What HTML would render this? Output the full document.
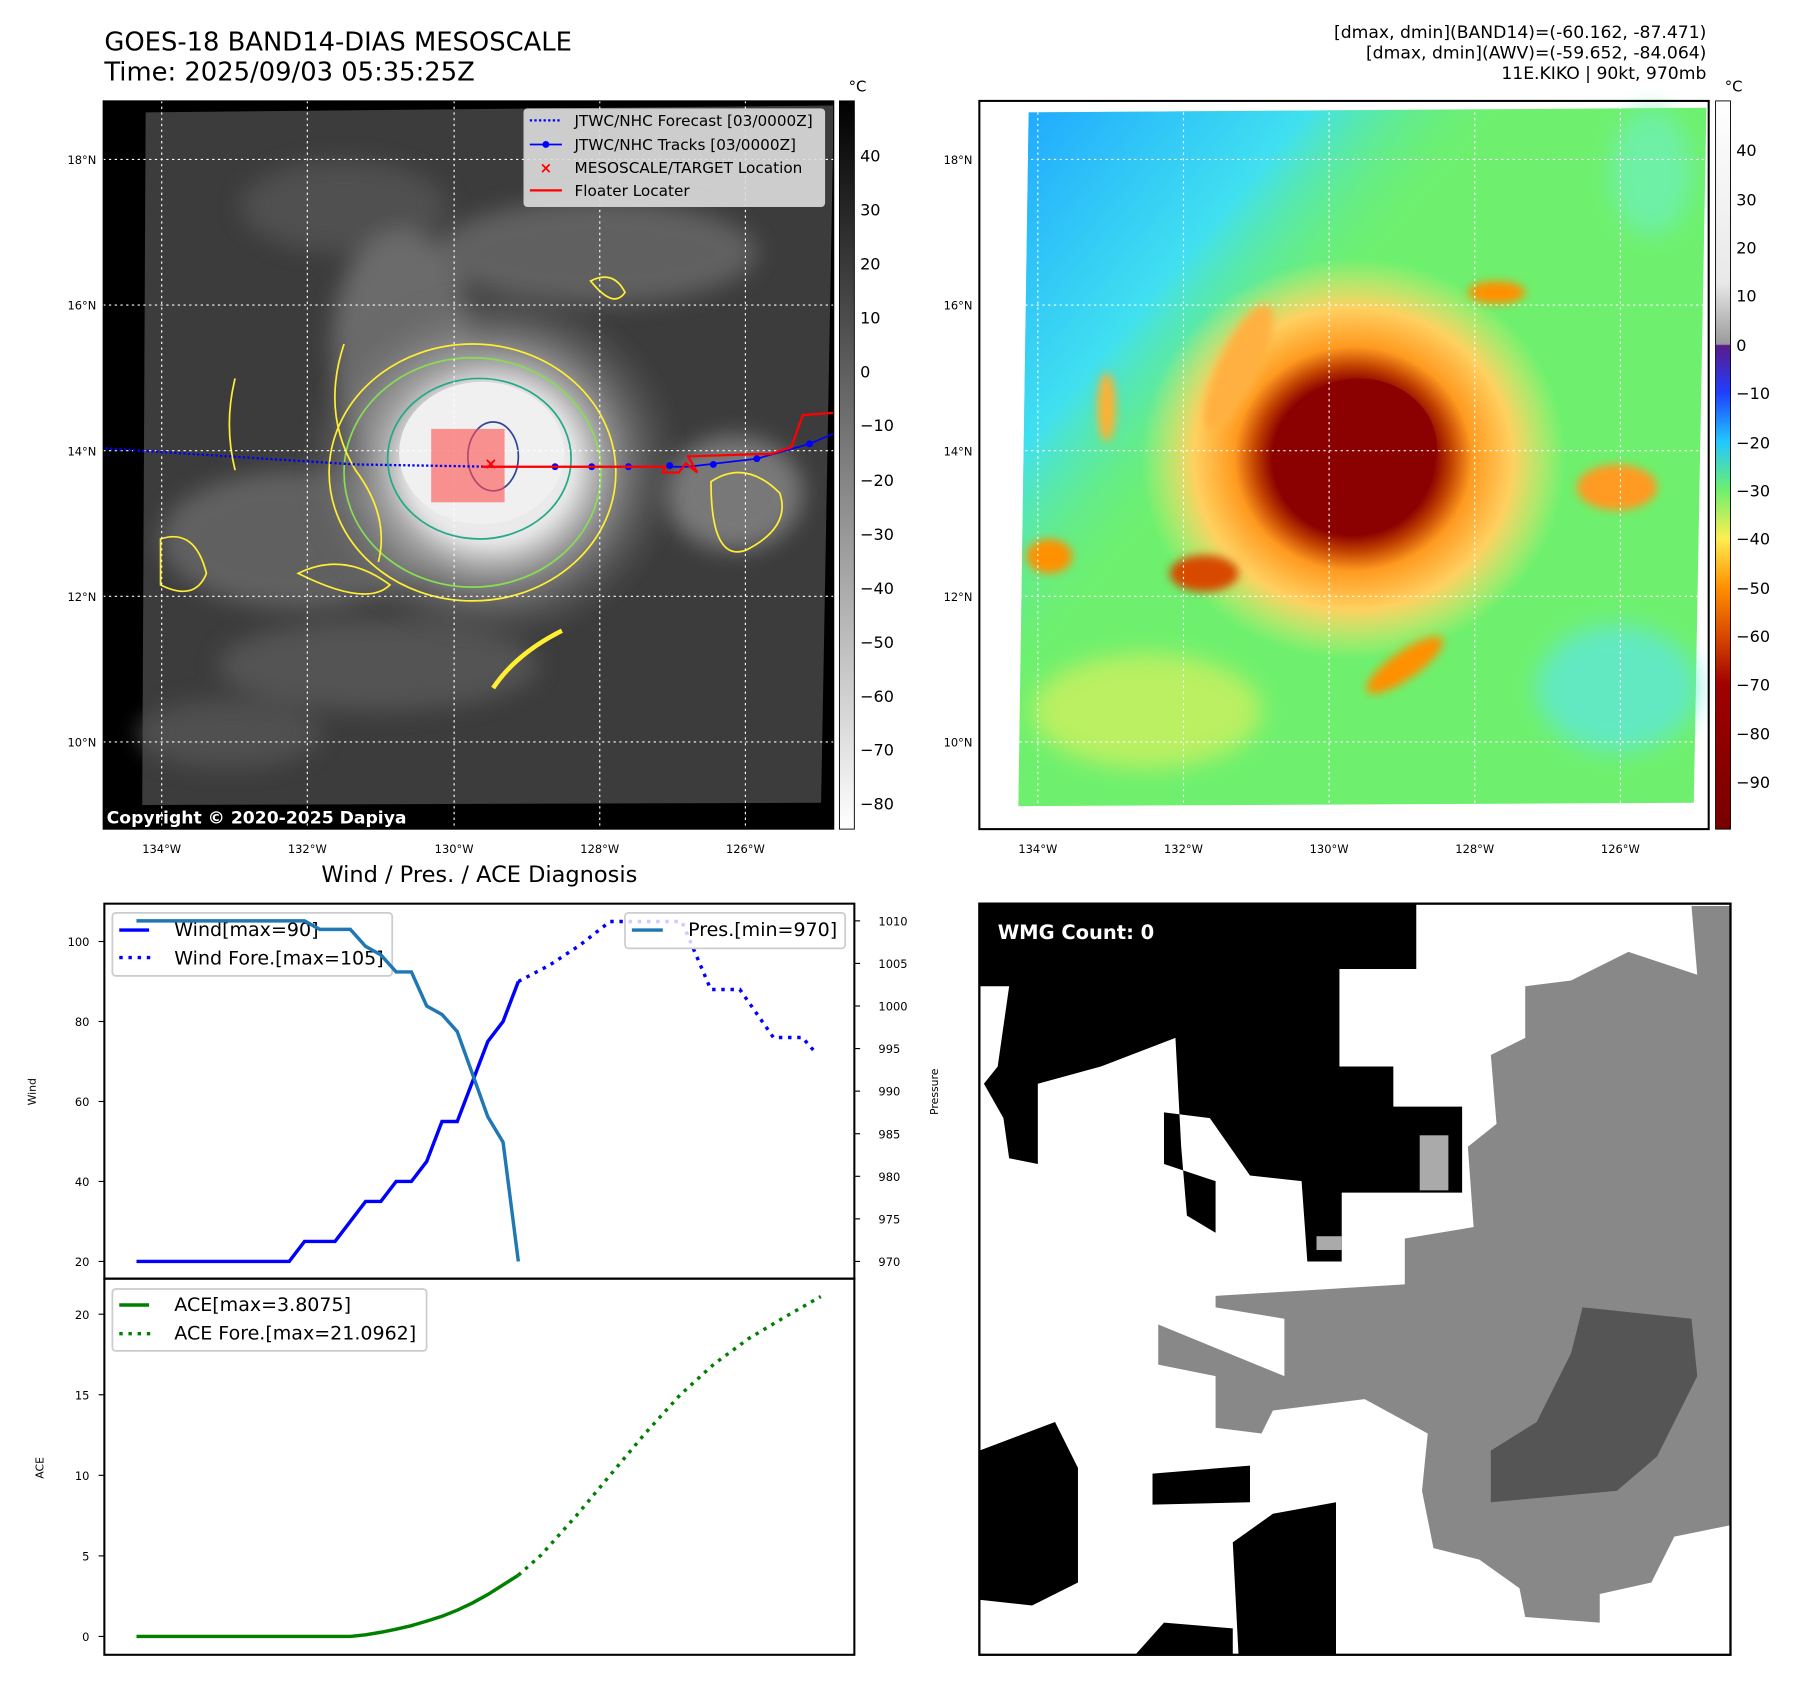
<!DOCTYPE html>
<html><head><meta charset="utf-8"><style>
html,body{margin:0;padding:0;background:#fff}
svg{display:block;font-family:"DejaVu Sans","Liberation Sans",sans-serif}
</style></head><body>
<svg id="fig" width="1797" height="1690" viewBox="0 0 1567 1473.7" xmlns="http://www.w3.org/2000/svg">
<defs>
<filter id="blur4"><feGaussianBlur stdDeviation="4"/></filter>
<filter id="blur10"><feGaussianBlur stdDeviation="10"/></filter>
<linearGradient id="cbGray" x1="0" y1="0" x2="0" y2="1"><stop offset="0" stop-color="#000"/><stop offset="1" stop-color="#fff"/></linearGradient>
<linearGradient id="cbColor" x1="0" y1="0" x2="0" y2="1">
<stop offset="0" stop-color="#fff"/><stop offset="0.25" stop-color="#e8e8e8"/><stop offset="0.334" stop-color="#9a9a9a"/>
<stop offset="0.336" stop-color="#5a1a8b"/><stop offset="0.401" stop-color="#1f3fff"/><stop offset="0.468" stop-color="#22c8ff"/>
<stop offset="0.535" stop-color="#6ef06e"/><stop offset="0.601" stop-color="#ffee50"/><stop offset="0.668" stop-color="#ff9000"/>
<stop offset="0.735" stop-color="#d84800"/><stop offset="0.801" stop-color="#a00000"/><stop offset="1" stop-color="#780000"/></linearGradient>
<radialGradient id="stormR"><stop offset="0" stop-color="#8b0000"/><stop offset="0.38" stop-color="#8b0000"/><stop offset="0.46" stop-color="#c04000"/><stop offset="0.56" stop-color="#ff9a20"/><stop offset="0.75" stop-color="#ffd060"/><stop offset="1" stop-color="#ffe870" stop-opacity="0"/></radialGradient>
<radialGradient id="stormL"><stop offset="0" stop-color="#f2f2f2"/><stop offset="0.42" stop-color="#e8e8e8"/><stop offset="0.55" stop-color="#aaa"/><stop offset="1" stop-color="#555" stop-opacity="0"/></radialGradient>
<linearGradient id="cyanTL" x1="0" y1="0" x2="0.7" y2="0.6"><stop offset="0" stop-color="#1fa8ff"/><stop offset="0.35" stop-color="#40e0f0"/><stop offset="0.6" stop-color="#6ef06e" stop-opacity="0"/></linearGradient>
</defs>

<!-- Titles -->
<text x="91" y="44" font-size="22.5">GOES-18 BAND14-DIAS MESOSCALE</text>
<text x="91" y="70" font-size="22.5">Time: 2025/09/03 05:35:25Z</text>
<g font-size="15" text-anchor="end">
<text x="1488" y="33">[dmax, dmin](BAND14)=(-60.162, -87.471)</text>
<text x="1488" y="51">[dmax, dmin](AWV)=(-59.652, -84.064)</text>
<text x="1488" y="69">11E.KIKO | 90kt, 970mb</text></g>

<!-- Left map -->
<g>
<rect x="90" y="88" width="637" height="635" fill="#000"/>
<polygon points="127,98 727,92 716,700 124,702" fill="#3c3c3c"/>
<g filter="url(#blur10)" opacity="0.8">
<ellipse cx="300" cy="180" rx="90" ry="40" fill="#555"/>
<ellipse cx="520" cy="220" rx="140" ry="45" fill="#6a6a6a"/>
<ellipse cx="260" cy="470" rx="120" ry="60" fill="#6a6a6a"/>
<ellipse cx="330" cy="580" rx="140" ry="40" fill="#5a5a5a"/>
<ellipse cx="640" cy="430" rx="60" ry="50" fill="#888"/>
<ellipse cx="200" cy="640" rx="80" ry="30" fill="#555"/>
<ellipse cx="350" cy="300" rx="60" ry="100" fill="#777"/>
</g>
<ellipse cx="428" cy="405" rx="170" ry="160" fill="url(#stormL)" filter="url(#blur4)"/>
<ellipse cx="420" cy="395" rx="72" ry="62" fill="#f0f0f0"/>
<g fill="none" stroke-width="1.5">
<ellipse cx="412" cy="412" rx="125" ry="112" stroke="#ffee33"/>
<ellipse cx="412" cy="412" rx="112" ry="100" stroke="#88dd55"/>
<ellipse cx="418" cy="400" rx="80" ry="70" stroke="#22aa88"/>
<ellipse cx="430" cy="398" rx="22" ry="30" stroke="#334499"/>
<path d="M300,300 q-20,60 10,110 q30,40 20,80" stroke="#ffee33"/>
<path d="M205,330 q-10,40 0,80" stroke="#ffee33"/>
<path d="M430,600 q20,-30 60,-50" stroke="#ffee33" stroke-width="4"/>
<path d="M620,420 q30,-20 60,10 q10,30 -30,50 q-30,10 -30,-60z" stroke="#ffee33"/>
<path d="M515,245 q20,-10 30,10 q-10,15 -30,-10z" stroke="#ffee33"/>
<path d="M140,470 q30,-10 40,30 q-10,25 -40,10z" stroke="#ffee33"/>
<path d="M260,500 q40,-20 80,10 q-20,20 -80,-10z" stroke="#ffee33"/>
</g>
<g stroke="#fff" stroke-width="1" stroke-dasharray="2,3">
<line x1="141" y1="88" x2="141" y2="723"/><line x1="268" y1="88" x2="268" y2="723"/><line x1="396" y1="88" x2="396" y2="723"/><line x1="523" y1="88" x2="523" y2="723"/><line x1="650" y1="88" x2="650" y2="723"/>
<line x1="90" y1="139" x2="727" y2="139"/><line x1="90" y1="266" x2="727" y2="266"/><line x1="90" y1="393" x2="727" y2="393"/><line x1="90" y1="520" x2="727" y2="520"/><line x1="90" y1="647" x2="727" y2="647"/>
</g>
<rect x="376" y="374" width="64" height="64" fill="#ff5050" opacity="0.6"/>
<polyline points="92,391 200,398 310,405 430,407" fill="none" stroke="#0000ff" stroke-width="2" stroke-dasharray="2,2"/>
<polyline points="430,407 600,407 660,400 706,387 727,378" fill="none" stroke="#0000ff" stroke-width="1.5"/>
<g fill="#0000ff"><circle cx="484" cy="407" r="3"/><circle cx="516" cy="407" r="3"/><circle cx="548" cy="407" r="3"/><circle cx="584" cy="406" r="3"/><circle cx="622" cy="405" r="3"/><circle cx="660" cy="400" r="3"/><circle cx="706" cy="387" r="3"/></g>
<polyline points="420,407 580,407 578,412 592,412 598,404 608,412 600,398 660,396 672,396 690,390 700,362 727,360" fill="none" stroke="#ff0000" stroke-width="2"/>
<text x="428" y="409" fill="#ff0000" font-size="14" font-weight="bold" text-anchor="middle">×</text>
<rect x="90" y="88" width="637" height="635" fill="none" stroke="#000" stroke-width="1"/>
<g>
<rect x="457" y="95" width="262" height="85" rx="3" fill="#ddd" fill-opacity="0.9" stroke="#ccc"/>
<line x1="462" y1="105" x2="490" y2="105" stroke="#0000ff" stroke-width="2" stroke-dasharray="2,2"/>
<line x1="462" y1="126" x2="490" y2="126" stroke="#0000ff" stroke-width="1.5"/><circle cx="476" cy="126" r="3" fill="#0000ff"/>
<text x="476" y="151" fill="#ff0000" font-size="13" font-weight="bold" text-anchor="middle">×</text>
<line x1="462" y1="166" x2="490" y2="166" stroke="#ff0000" stroke-width="2"/>
<g font-size="13.3"><text x="501" y="110">JTWC/NHC Forecast [03/0000Z]</text><text x="501" y="131">JTWC/NHC Tracks [03/0000Z]</text><text x="501" y="151">MESOSCALE/TARGET Location</text><text x="501" y="171">Floater Locater</text></g>
</g>
<text x="93" y="718" fill="#fff" font-size="15" font-weight="bold">Copyright © 2020-2025 Dapiya</text>
</g>
<g font-size="10" text-anchor="middle">
<text x="141" y="744">134°W</text><text x="268" y="744">132°W</text><text x="396" y="744">130°W</text><text x="523" y="744">128°W</text><text x="650" y="744">126°W</text>
<g text-anchor="end"><text x="84" y="143">18°N</text><text x="84" y="270">16°N</text><text x="84" y="397">14°N</text><text x="84" y="524">12°N</text><text x="84" y="651">10°N</text></g>
</g>
<g>
<rect x="732" y="88" width="13" height="635" fill="url(#cbGray)" stroke="#000" stroke-width="0.8"/>
<text x="740" y="80" font-size="13">°C</text>
<g font-size="14"><text x="750" y="141">40</text><text x="750" y="188">30</text><text x="750" y="235">20</text><text x="750" y="282">10</text><text x="750" y="329">0</text><text x="750" y="376">−10</text><text x="750" y="424">−20</text><text x="750" y="471">−30</text><text x="750" y="518">−40</text><text x="750" y="565">−50</text><text x="750" y="612">−60</text><text x="750" y="659">−70</text><text x="750" y="706">−80</text></g>
</g>

<!-- Right map -->
<g>
<polygon points="897,98 1488,94 1477,700 888,703" fill="#6ef06e"/>
<polygon points="897,98 1488,94 1477,700 888,703" fill="url(#cyanTL)"/>
<g filter="url(#blur10)" opacity="0.85">
<ellipse cx="1440" cy="150" rx="35" ry="55" fill="#6ef0b0"/>
<ellipse cx="1410" cy="600" rx="70" ry="55" fill="#60e8d0"/>
<ellipse cx="1000" cy="620" rx="100" ry="50" fill="#c8f060"/>
</g>
<ellipse cx="1180" cy="400" rx="185" ry="175" fill="url(#stormR)"/>
<ellipse cx="1185" cy="390" rx="68" ry="60" fill="#8b0000"/>
<g filter="url(#blur4)">
<ellipse cx="1410" cy="425" rx="35" ry="20" fill="#ff9a20"/>
<ellipse cx="1050" cy="500" rx="30" ry="16" fill="#d84800"/>
<ellipse cx="915" cy="485" rx="20" ry="15" fill="#ff9000"/>
<ellipse cx="1225" cy="580" rx="40" ry="12" fill="#ff9000" transform="rotate(-35 1225 580)"/>
<ellipse cx="1305" cy="255" rx="25" ry="10" fill="#ff9000"/>
<ellipse cx="965" cy="355" rx="8" ry="30" fill="#ffb030"/>
<ellipse cx="1080" cy="320" rx="18" ry="60" fill="#ffb040" transform="rotate(25 1080 320)"/>
</g>
<g stroke="#fff" stroke-width="1" stroke-dasharray="2,3">
<line x1="905" y1="88" x2="905" y2="723"/><line x1="1032" y1="88" x2="1032" y2="723"/><line x1="1159" y1="88" x2="1159" y2="723"/><line x1="1286" y1="88" x2="1286" y2="723"/><line x1="1413" y1="88" x2="1413" y2="723"/>
<line x1="854" y1="139" x2="1490" y2="139"/><line x1="854" y1="266" x2="1490" y2="266"/><line x1="854" y1="393" x2="1490" y2="393"/><line x1="854" y1="520" x2="1490" y2="520"/><line x1="854" y1="647" x2="1490" y2="647"/>
</g>
<rect x="854" y="88" width="636" height="635" fill="none" stroke="#000" stroke-width="1.8"/>
</g>
<g font-size="10" text-anchor="middle">
<text x="905" y="744">134°W</text><text x="1032" y="744">132°W</text><text x="1159" y="744">130°W</text><text x="1286" y="744">128°W</text><text x="1413" y="744">126°W</text>
<g text-anchor="end"><text x="848" y="143">18°N</text><text x="848" y="270">16°N</text><text x="848" y="397">14°N</text><text x="848" y="524">12°N</text><text x="848" y="651">10°N</text></g>
</g>
<g>
<rect x="1496" y="88" width="13" height="635" fill="url(#cbColor)" stroke="#000" stroke-width="0.8"/>
<text x="1504" y="80" font-size="13">°C</text>
<g font-size="14"><text x="1514" y="136">40</text><text x="1514" y="179">30</text><text x="1514" y="221">20</text><text x="1514" y="263">10</text><text x="1514" y="306">0</text><text x="1514" y="348">−10</text><text x="1514" y="391">−20</text><text x="1514" y="433">−30</text><text x="1514" y="475">−40</text><text x="1514" y="518">−50</text><text x="1514" y="560">−60</text><text x="1514" y="602">−70</text><text x="1514" y="645">−80</text><text x="1514" y="687">−90</text></g>
</g>

<!-- WMG panel -->
<g>
<rect x="854" y="788" width="655" height="655" fill="#fff"/>
<polygon fill="#888" points="1509,790 1475,790 1480,850 1420,830 1370,855 1330,860 1330,905 1300,920 1305,980 1280,1000 1285,1070 1225,1080 1225,1120 1060,1130 1060,1140 1120,1150 1120,1200 1010,1155 1010,1190 1060,1200 1060,1245 1100,1250 1110,1230 1190,1220 1245,1250 1240,1300 1250,1350 1290,1360 1325,1385 1330,1410 1395,1415 1395,1390 1440,1380 1460,1340 1509,1330"/>
<polygon fill="#555" points="1380,1140 1475,1150 1480,1200 1445,1270 1410,1300 1300,1310 1300,1265 1340,1240 1370,1180"/>
<polygon fill="#000" points="854,788 1235,788 1235,845 1168,845 1168,930 1215,930 1215,965 1275,965 1275,1040 1170,1040 1170,1100 1140,1100 1135,1030 1090,1025 1055,975 1015,970 1015,1015 1060,1030 1060,1075 1035,1060 1030,1000 1025,905 960,930 905,945 905,1015 880,1010 875,975 858,945 870,930 880,860 854,860"/>
<polygon fill="#000" points="854,1265 920,1240 940,1280 940,1380 900,1400 854,1395"/>
<polygon fill="#000" points="1075,1345 1110,1320 1165,1310 1165,1443 1080,1443"/>
<polygon fill="#000" points="1005,1285 1090,1278 1090,1310 1005,1312"/>
<polygon fill="#000" points="990,1443 1015,1415 1075,1420 1075,1443"/>
<rect x="1148" y="1078" width="22" height="12" fill="#aaa"/><rect x="1238" y="990" width="25" height="48" fill="#aaa"/>
<text x="870" y="819" fill="#fff" font-size="17" font-weight="bold">WMG Count: 0</text>
<rect x="854" y="788" width="655" height="655" fill="none" stroke="#000" stroke-width="2"/>
</g>

<text x="418" y="769" font-size="19.6" text-anchor="middle">Wind / Pres. / ACE Diagnosis</text>
<g id="chart"></g>
</svg>
<script>
// Data
const windObs = [20,20,20,20,20,20,20,20,20,20,20,25,25,25,30,35,35,40,40,45,55,55,65,75,80,90];
const windForeIdx = [25,27,29,31,33,35.7,37.6,39.5,41.7,43.6,44.5];
const windFore = [90,94,99,105,105,105,88,88,76,76,72];
const presObs = [1010,1010,1010,1010,1010,1010,1010,1010,1010,1010,1010,1010,1009,1009,1009,1007,1006,1004,1004,1000,999,997,992,987,984,970];
const aceObs = [0,0,0,0,0,0,0,0,0,0,0,0,0,0,0,0.1,0.26,0.45,0.67,0.95,1.25,1.63,2.08,2.6,3.2,3.8];
const aceForeIdx = [25,26.5,28.8,31,33.3,35.6,37.8,40.1,42.4,44.8];
const aceFore = [3.8,5.06,7.5,10,12.6,15,16.9,18.5,19.8,21.1];
const windTicks = [20,40,60,80,100];
const presTicks = [970,975,980,985,990,995,1000,1005,1010];
const aceTicks = [0,5,10,15,20];

const NS='http://www.w3.org/2000/svg';
const g=document.getElementById('chart');
const x=i=>119+i*(452-119)/25;
const yW=v=>1100-(v-20)*(1100-821)/80;
const yP=p=>1100-(p-970)*(1100-803)/40;
const yA=a=>1427-a*(1427-1146)/20;
function mk(tag,attrs,parent){const e=document.createElementNS(NS,tag);for(const k in attrs)e.setAttribute(k,attrs[k]);(parent||g).appendChild(e);return e;}
function pts(xs,ys,fx,fy){return xs.map((v,i)=>fx(v)+','+fy(ys[i])).join(' ');}
const idx=a=>a.map((_,i)=>i);

let f1=mk('rect',{x:91,y:788,width:654,height:327,fill:'none',stroke:'#000','stroke-width':1.8});


let f2=mk('rect',{x:91,y:1115,width:654,height:328,fill:'none',stroke:'#000','stroke-width':1.8});



windTicks.forEach(v=>{
 const t=mk('line',{x1:86,x2:91,y1:yW(v),y2:yW(v),stroke:'#000'});
 
 
 const l=mk('text',{x:78,y:yW(v)+4,'font-size':10,'text-anchor':'end'});l.textContent=v;
 
 
});
presTicks.forEach(v=>{
 const t=mk('line',{x1:745,x2:750,y1:yP(v),y2:yP(v),stroke:'#000'});
 
 
 const l=mk('text',{x:766,y:yP(v)+4,'font-size':10});l.textContent=v;
 
 
});
aceTicks.forEach(v=>{
 const t=mk('line',{x1:86,x2:91,y1:yA(v),y2:yA(v),stroke:'#000'});
 
 
 const l=mk('text',{x:78,y:yA(v)+4,'font-size':10,'text-anchor':'end'});l.textContent=v;
 
 
});
let a1=mk('text',{x:31,y:952,'font-size':9.5,'text-anchor':'middle',transform:'rotate(-90 31 952)'});a1.textContent='Wind';


let a2=mk('text',{x:818,y:952,'font-size':9.5,'text-anchor':'middle',transform:'rotate(-90 818 952)'});a2.textContent='Pressure';


let a3=mk('text',{x:38,y:1280,'font-size':9.5,'text-anchor':'middle',transform:'rotate(-90 38 1280)'});a3.textContent='ACE';



let wl=mk('polyline',{points:pts(idx(windObs),windObs,x,yW),fill:'none',stroke:'#0000ff','stroke-width':3});


let wf=mk('polyline',{points:pts(windForeIdx,windFore,x,yW),fill:'none',stroke:'#0000ff','stroke-width':3,'stroke-dasharray':'3,5'});


let wlg=mk('g',{});


mk('rect',{x:98,y:796,width:244,height:55,rx:3,fill:'#fff','fill-opacity':0.8,stroke:'#ccc','stroke-width':1.5},wlg);
mk('line',{x1:104,x2:130,y1:811,y2:811,stroke:'#0000ff','stroke-width':3},wlg);
mk('line',{x1:104,x2:134,y1:835,y2:835,stroke:'#0000ff','stroke-width':3,'stroke-dasharray':'3,5'},wlg);
let t1=mk('text',{x:152,y:816,'font-size':16.6},wlg);t1.textContent='Wind[max=90]';
let t2=mk('text',{x:152,y:841,'font-size':16.6},wlg);t2.textContent='Wind Fore.[max=105]';
let pl=mk('polyline',{points:pts(idx(presObs),presObs,x,yP),fill:'none',stroke:'#1f77b4','stroke-width':3});


let plg=mk('g',{});


mk('rect',{x:545,y:796,width:192,height:31,rx:3,fill:'#fff','fill-opacity':0.8,stroke:'#ccc','stroke-width':1.5},plg);
mk('line',{x1:551,x2:578,y1:811,y2:811,stroke:'#1f77b4','stroke-width':3},plg);
let t3=mk('text',{x:600,y:816,'font-size':16.6},plg);t3.textContent='Pres.[min=970]';
let al=mk('polyline',{points:pts(idx(aceObs),aceObs,x,yA),fill:'none',stroke:'#008000','stroke-width':3});


let af=mk('polyline',{points:pts(aceForeIdx,aceFore,x,yA),fill:'none',stroke:'#008000','stroke-width':3,'stroke-dasharray':'3,5'});


let alg=mk('g',{});


mk('rect',{x:98,y:1124,width:274,height:54,rx:3,fill:'#fff','fill-opacity':0.8,stroke:'#ccc','stroke-width':1.5},alg);
mk('line',{x1:104,x2:130,y1:1138,y2:1138,stroke:'#008000','stroke-width':3},alg);
mk('line',{x1:104,x2:134,y1:1163,y2:1163,stroke:'#008000','stroke-width':3,'stroke-dasharray':'3,5'},alg);
let t4=mk('text',{x:152,y:1143,'font-size':16.6},alg);t4.textContent='ACE[max=3.8075]';
let t5=mk('text',{x:152,y:1168,'font-size':16.6},alg);t5.textContent='ACE Fore.[max=21.0962]';
</script>
</body></html>
